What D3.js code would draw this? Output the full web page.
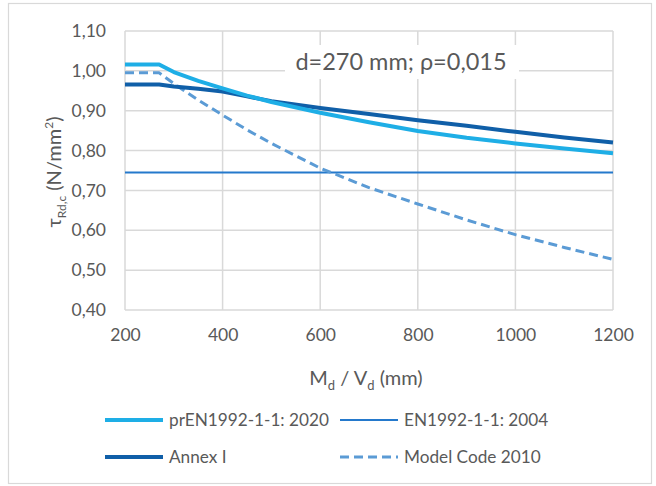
<!DOCTYPE html>
<html>
<head>
<meta charset="utf-8">
<script src="https://cdn.jsdelivr.net/npm/d3@7"></script>
<style>
  body { margin: 0; background: #fff; }
  svg text { font-family: Lato, "Open Sans", sans-serif; fill: #595959; }
</style>
</head>
<body>
<svg id="chart" width="656" height="486"></svg>
<script>
// M_d / V_d (mm)
const xValues = [200, 270, 300, 350, 400, 450, 500, 600, 700, 800, 900, 1000, 1100, 1200]
// tau_Rd,c (N/mm2)
const prEN2020 = [1.016, 1.016, 0.997, 0.975, 0.956, 0.938, 0.922, 0.895, 0.871, 0.849, 0.832, 0.818, 0.805, 0.793]
const en2004 = [0.745, 0.745, 0.745, 0.745, 0.745, 0.745, 0.745, 0.745, 0.745, 0.745, 0.745, 0.745, 0.745, 0.745]
const annexI = [0.966, 0.966, 0.961, 0.955, 0.948, 0.936, 0.924, 0.907, 0.892, 0.876, 0.862, 0.847, 0.833, 0.82]
const modelCode2010 = [0.995, 0.995, 0.968, 0.927, 0.889, 0.852, 0.818, 0.756, 0.707, 0.666, 0.626, 0.589, 0.557, 0.527]

const xTicks = [200, 400, 600, 800, 1000, 1200]
const yTicks = [0.4, 0.5, 0.6, 0.7, 0.8, 0.9, 1.0, 1.1]

const series = [
  { name: "prEN1992-1-1: 2020", values: prEN2020, color: "#1eaee6", width: 4, dash: null },
  { name: "EN1992-1-1: 2004", values: en2004, color: "#2479cc", width: 2, dash: null },
  { name: "Annex I", values: annexI, color: "#105fa8", width: 4, dash: null },
  { name: "Model Code 2010", values: modelCode2010, color: "#5b9bd5", width: 3, dash: "9,5" }
]

const svg = d3.select("#chart")
const margin = { top: 31, right: 43, bottom: 176, left: 125 }
const width = +svg.attr("width") - margin.left - margin.right
const height = +svg.attr("height") - margin.top - margin.bottom

const comma = d3.formatLocale({ decimal: ",", thousands: ".", grouping: [3], currency: ["", ""] })
const fmt = comma.format(".2f")

// outer frame
svg.append("rect")
    .attr("x", 8.5).attr("y", 3.5)
    .attr("width", 643).attr("height", 480)
    .attr("fill", "#fff")
    .attr("stroke", "#d9d9d9")
    .attr("stroke-width", 1.2)

const g = svg.append("g")
    .attr("transform", "translate(" + margin.left + "," + margin.top + ")")

const x = d3.scaleLinear().domain([200, 1200]).range([0, width])
const y = d3.scaleLinear().domain([0.4, 1.1]).range([height, 0])

// grid
g.append("g")
  .selectAll("line")
  .data(yTicks)
  .enter().append("line")
    .attr("x1", 0).attr("x2", width)
    .attr("y1", d => y(d)).attr("y2", d => y(d))
    .attr("stroke", "#d9d9d9").attr("stroke-width", 1.5)

g.append("g")
  .selectAll("line")
  .data(xTicks)
  .enter().append("line")
    .attr("x1", d => x(d)).attr("x2", d => x(d))
    .attr("y1", 0).attr("y2", height)
    .attr("stroke", "#d9d9d9").attr("stroke-width", 1.5)

// axes (labels only)
const xAxis = g.append("g")
    .attr("transform", "translate(0," + height + ")")
    .call(d3.axisBottom(x).tickValues(xTicks).tickSize(0).tickPadding(19).tickFormat(d3.format("d")))
xAxis.select(".domain").remove()
xAxis.selectAll("text").attr("font-size", 17.5).style("font-family", "Lato, sans-serif").attr("fill", "#595959")

const yAxis = g.append("g")
    .call(d3.axisLeft(y).tickValues(yTicks).tickSize(0).tickPadding(19).tickFormat(fmt))
yAxis.select(".domain").remove()
yAxis.selectAll("text").attr("font-size", 17.5).style("font-family", "Lato, sans-serif").attr("fill", "#595959")

// lines
const line = d3.line()
    .x((d, i) => x(xValues[i]))
    .y(d => y(d))

const order = [1, 3, 2, 0]
order.forEach(k => {
  const s = series[k]
  g.append("path")
      .datum(s.values)
      .attr("fill", "none")
      .attr("stroke", s.color)
      .attr("stroke-width", s.width)
      .attr("stroke-linejoin", "round")
      .attr("stroke-dasharray", s.dash)
      .attr("d", line)
})

// annotation box
const note = svg.append("g")
note.append("rect")
    .attr("x", 285).attr("y", 45)
    .attr("width", 234).attr("height", 34)
    .attr("fill", "#fff")
note.append("text")
    .attr("x", 401).attr("y", 70)
    .attr("text-anchor", "middle")
    .attr("font-size", 23.5)
    .text("d=270 mm; ρ=0,015")

// axis titles
const xt = svg.append("text")
    .attr("x", 366).attr("y", 385)
    .attr("text-anchor", "middle")
    .attr("font-size", 20)
xt.append("tspan").text("M")
xt.append("tspan").attr("font-size", 13).attr("dy", 5).text("d")
xt.append("tspan").attr("dy", -5).text(" / V")
xt.append("tspan").attr("font-size", 13).attr("dy", 5).text("d")
xt.append("tspan").attr("dy", -5).text(" (mm)")

const yt = svg.append("text")
    .attr("transform", "translate(61,172) rotate(-90)")
    .attr("text-anchor", "middle")
    .attr("font-size", 20)
yt.append("tspan").text("τ")
yt.append("tspan").attr("font-size", 12).attr("dy", 5).text("Rd,c")
yt.append("tspan").attr("dy", -5).text(" (N/mm")
yt.append("tspan").attr("font-size", 12).attr("dy", -8).text("2")
yt.append("tspan").attr("dy", 8).text(")")

// legend
const legendPos = [
  { x: 105, y: 420 },
  { x: 340, y: 420 },
  { x: 105, y: 457 },
  { x: 340, y: 457 }
]
series.forEach((s, i) => {
  const p = legendPos[i]
  svg.append("line")
      .attr("x1", p.x).attr("x2", p.x + 58)
      .attr("y1", p.y).attr("y2", p.y)
      .attr("stroke", s.color)
      .attr("stroke-width", s.width)
      .attr("stroke-dasharray", s.dash)
  svg.append("text")
      .attr("x", p.x + 64).attr("y", p.y + 6)
      .attr("font-size", 17.2)
      .text(s.name)
})
</script>
</body>
</html>
